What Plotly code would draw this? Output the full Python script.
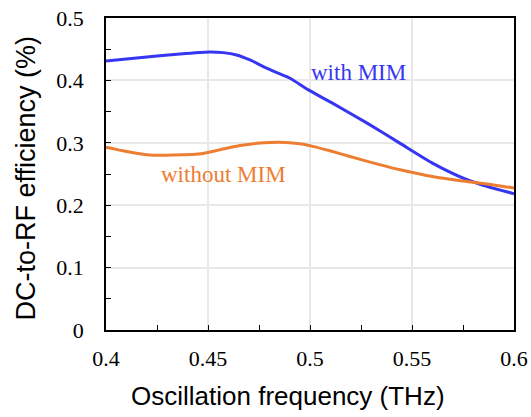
import plotly.graph_objects as go

freq_with = [0.400, 0.425, 0.4363, 0.4505, 0.4575, 0.464, 0.4706, 0.4771, 0.4837, 0.4902, 0.4992,
             0.511, 0.528, 0.544, 0.560, 0.577, 0.587, 0.600]
eff_with = [0.4312, 0.4390, 0.4424, 0.4456, 0.4445, 0.4408, 0.4328, 0.4221, 0.4125, 0.4035, 0.3848,
            0.3635, 0.3315, 0.2995, 0.2675, 0.2408, 0.2300, 0.2184]

freq_without = [0.400, 0.4102, 0.4216, 0.4330, 0.4477, 0.4559, 0.4657, 0.4755, 0.4852, 0.4950, 0.5008,
                0.5098, 0.5196, 0.5295, 0.5442, 0.560, 0.577, 0.587, 0.600]
eff_without = [0.2931, 0.2861, 0.2803, 0.2803, 0.2829, 0.2888, 0.2957, 0.2995, 0.3008, 0.2984, 0.2947,
               0.2872, 0.2781, 0.2691, 0.2568, 0.2460, 0.2380, 0.2340, 0.2275]

x_ticks = [0.4, 0.45, 0.5, 0.55, 0.6]
x_tick_labels = ["0.4", "0.45", "0.5", "0.55", "0.6"]
y_ticks = [0, 0.1, 0.2, 0.3, 0.4, 0.5]
y_tick_labels = ["0", "0.1", "0.2", "0.3", "0.4", "0.5"]

BLUE = "#3636f2"
ORANGE = "#ed7d31"
SERIF = "Liberation Serif, Times New Roman, serif"
SANS = "Liberation Sans, Arial, sans-serif"

fig = go.Figure()
fig.add_trace(go.Scatter(x=freq_with, y=eff_with, mode="lines",
                         line=dict(color=BLUE, width=3, shape="spline", smoothing=0.6),
                         showlegend=False, hoverinfo="skip"))
fig.add_trace(go.Scatter(x=freq_without, y=eff_without, mode="lines",
                         line=dict(color=ORANGE, width=3, shape="spline", smoothing=0.6),
                         showlegend=False, hoverinfo="skip"))

fig.add_shape(type="line", xref="x", yref="y", x0=0.4, x1=0.6, y0=0.3, y1=0.3,
              line=dict(color="#bdbdbd", width=1.5), layer="below")

fig.add_annotation(x=0.5238, y=0.4125, xref="x", yref="y", text="with MIM", showarrow=False,
                   xanchor="center", yanchor="middle",
                   font=dict(family=SERIF, size=23, color=BLUE))
fig.add_annotation(x=0.4578, y=0.2495, xref="x", yref="y", text="without MIM", showarrow=False,
                   xanchor="center", yanchor="middle",
                   font=dict(family=SERIF, size=23, color=ORANGE))

fig.add_annotation(x=(288 - 106) / 408, y=-(396 - 330) / 313, xref="paper", yref="paper",
                   text="Oscillation frequency (THz)", showarrow=False,
                   xanchor="center", yanchor="middle",
                   font=dict(family=SANS, size=26, color="black"))
fig.add_annotation(x=-(106 - 26) / 408, y=(330 - 178) / 313, xref="paper", yref="paper",
                   text="DC-to-RF efficiency (%)", showarrow=False, textangle=-90,
                   xanchor="center", yanchor="middle",
                   font=dict(family=SANS, size=27, color="black"))

fig.update_xaxes(range=[0.4, 0.6], tickvals=x_ticks, ticktext=x_tick_labels, automargin=False,
                 showline=True, linecolor="black", linewidth=1.5, mirror=True,
                 ticks="inside", ticklen=5, tickcolor="black",
                 minor=dict(ticks="inside", ticklen=5, dtick=0.025, tick0=0.4, tickcolor="black", showgrid=False),
                 showgrid=True, gridcolor="#e8e8e8", gridwidth=1.5, zeroline=False,
                 tickfont=dict(family=SERIF, size=22, color="black"), ticklabelstandoff=8)
fig.update_yaxes(range=[0, 0.5], tickvals=y_ticks, ticktext=y_tick_labels, automargin=False,
                 showline=True, linecolor="black", linewidth=1.5, mirror=True,
                 ticks="inside", ticklen=5, tickcolor="black",
                 minor=dict(ticks="inside", ticklen=5, dtick=0.05, tick0=0, tickcolor="black", showgrid=False),
                 showgrid=True, gridcolor="#e8e8e8", gridwidth=1.5, zeroline=False,
                 tickfont=dict(family=SERIF, size=22, color="black"), ticklabelstandoff=16)

fig.update_layout(width=531, height=417, margin=dict(l=106, r=17, t=18, b=87),
                  plot_bgcolor="white", paper_bgcolor="white")
fig.write_html("out.html", config={"displayModeBar": False},
               post_script="document.body.style.margin='0';document.body.style.overflow='hidden';")
